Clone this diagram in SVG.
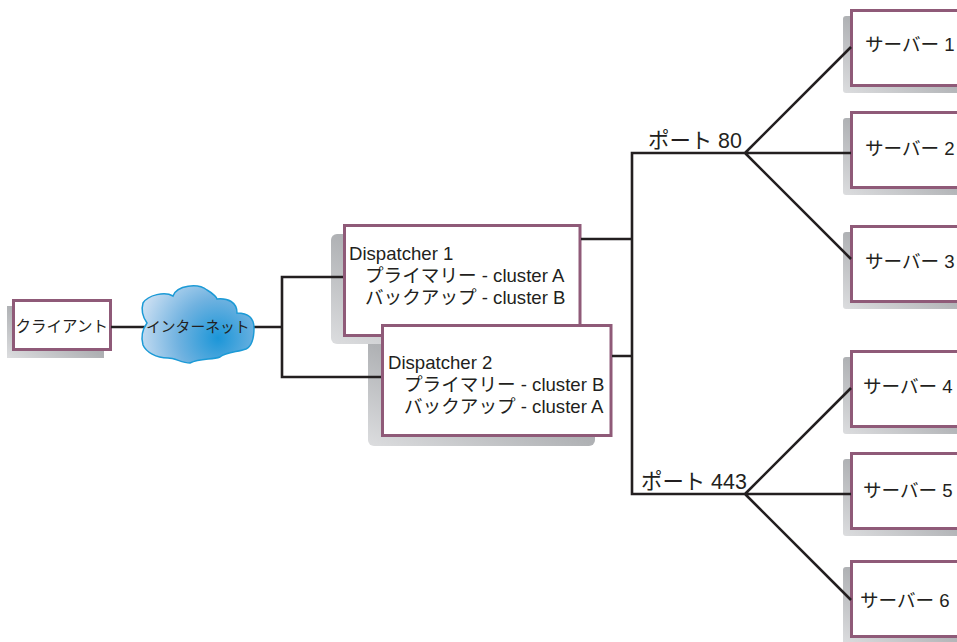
<svg xmlns="http://www.w3.org/2000/svg" width="957" height="642" viewBox="0 0 957 642">
<style>
text{font-family:"Liberation Sans","Noto Sans CJK JP",sans-serif;fill:#231f20}
.b{fill:#fff;stroke:#8f5a78;stroke-width:3}
.s{fill:url(#sh)}
.l{fill:none;stroke:#231f20;stroke-width:2.6}
.t{font-size:18.6px}
.p{font-size:21.4px}
.m{font-size:15.5px}
</style>
<defs>
<linearGradient id="sh" x1="0" y1="1" x2="1" y2="0"><stop offset="0" stop-color="#dcdddf"/><stop offset="0.5" stop-color="#b0b2b5"/><stop offset="1" stop-color="#97999c"/></linearGradient>
<radialGradient id="cl" gradientUnits="userSpaceOnUse" cx="218" cy="338" r="80"><stop offset="0" stop-color="#1b96d8"/><stop offset="0.5" stop-color="#70b2e0"/><stop offset="1" stop-color="#c9def2"/></radialGradient>
</defs>
<g id="client">
<rect class="s" x="7" y="306" width="97" height="52"/>
<rect class="b" x="13.5" y="300.5" width="97" height="49"/>
<text class="m" x="15.5" y="332">クライアント</text>
</g>
<g id="dispatcher1">
<rect class="s" x="331" y="234" width="236" height="110" rx="6"/>
<rect class="b" x="344.5" y="225.5" width="235.5" height="110"/>
<text class="t" x="349" y="260">Dispatcher 1</text>
<text class="t" x="365" y="282">プライマリー - cluster A</text>
<text class="t" x="365" y="304">バックアップ - cluster B</text>
</g>
<g id="dispatcher2">
<path class="s" d="M368 344H595V440a6 6 0 0 1-6 6H374a6 6 0 0 1-6-6Z"/>
<rect class="b" x="382.5" y="325.5" width="228.5" height="110"/>
<text class="t" x="388" y="369">Dispatcher 2</text>
<text class="t" x="404" y="391">プライマリー - cluster B</text>
<text class="t" x="404" y="413">バックアップ - cluster A</text>
</g>
<g id="server1"><rect class="s" x="843" y="16" width="130" height="77" rx="3"/><rect class="b" x="851.5" y="10.5" width="120" height="75"/><text class="t" x="865" y="51">サーバー 1</text></g>
<g id="server2"><rect class="s" x="843" y="118" width="130" height="77" rx="3"/><rect class="b" x="851.5" y="112.5" width="120" height="75"/><text class="t" x="865" y="155">サーバー 2</text></g>
<g id="server3"><rect class="s" x="843" y="232" width="130" height="77" rx="3"/><rect class="b" x="851.5" y="226.5" width="120" height="75"/><text class="t" x="865" y="268">サーバー 3</text></g>
<g id="server4"><rect class="s" x="843" y="357" width="130" height="77" rx="3"/><rect class="b" x="851.5" y="351.5" width="120" height="75"/><text class="t" x="863" y="393">サーバー 4</text></g>
<g id="server5"><rect class="s" x="843" y="459" width="130" height="77" rx="3"/><rect class="b" x="851.5" y="453.5" width="120" height="75"/><text class="t" x="863" y="497">サーバー 5</text></g>
<g id="server6"><rect class="s" x="843" y="567" width="130" height="77" rx="3"/><rect class="b" x="851.5" y="561.5" width="120" height="75"/><text class="t" x="860" y="607">サーバー 6</text></g>
<g id="connectors">
<path class="l" d="M111 327H148M250 327H282M343 277H282V377H381M581 239H632M612 356H632M745 153H632V494H745M745 153L851 47M745 153H851M745 153L851 259M745 494L851 388M745 494H851M745 494L851 600"/>
</g>
<g id="internet">
<path d="M143 303C148 295 165 291 173 296C177 285 198 283 207 290C214 294 217 298 217 299C228 298 237 302 237 313C245 313 254 316 254 328C254 338 252 346 246 349C238 352 226 352 220 357C212 360 200 358 190 363C182 363 175 358 168 358C156 358 146 352 143 345C141 338 142 330 147 323C142 316 141 310 143 303Z" fill="url(#cl)" stroke="#1c9ad6" stroke-width="1.5"/>
<text class="m" x="146" y="332" style="font-size:14.8px">インターネット</text>
</g>
<text class="p" x="648" y="148">ポート 80</text>
<text class="p" x="641" y="489">ポート 443</text>
</svg>
